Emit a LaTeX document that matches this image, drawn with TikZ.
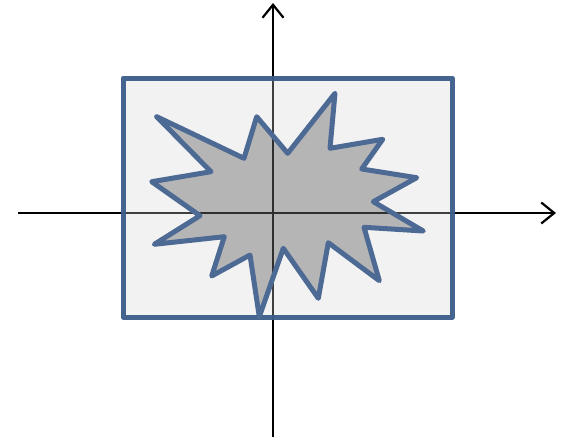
\documentclass[tikz,border=0pt]{standalone}
\usetikzlibrary{arrows.meta}
\definecolor{rectfill}{RGB}{213,213,213}
\definecolor{rectline}{RGB}{60,92,138}
\definecolor{starline}{RGB}{76,106,148}
\tikzset{
  axisline/.style={line width=2.2pt,black,-{Straight Barb[length=13pt,width=21pt,line width=2.2pt]}},
  framebox/.style={line width=5pt,draw=rectline,fill=rectfill,fill opacity=0.3,draw opacity=0.95,line join=round},
  burst/.style={line width=5pt,draw=starline,fill=black,fill opacity=0.25,line join=round}
}
\begin{document}
\begin{tikzpicture}[x=1pt,y=-1pt]
\useasboundingbox (0,0) rectangle (562,439);
\coordinate (xs) at (18,213);
\coordinate (xe) at (556,213);
\coordinate (ys) at (273,437);
\coordinate (ye) at (273,3);
\draw[axisline] (xs) -- (xe);
\draw[axisline] (ys) -- (ye);
\draw[framebox] (123,78) rectangle (452,317);
\draw[burst] (156.7,116.7) -- (244,158.3) -- (256.7,116.7) -- (287.7,153.3)
  -- (335,93.3) -- (330,148.3) -- (382.7,139.3) -- (361.7,169)
  -- (416.7,177.7) -- (373.3,201.7) -- (423.3,231) -- (364,227.3)
  -- (379.3,280.7) -- (328.3,242.7) -- (318.3,298.3) -- (283.3,248.3)
  -- (259.3,316.7) -- (250,255) -- (211.7,276) -- (224.3,236.7)
  -- (154.3,244.3) -- (200,215.7) -- (151.7,181.7) -- (211,171.7) -- cycle;
\end{tikzpicture}
\end{document}
